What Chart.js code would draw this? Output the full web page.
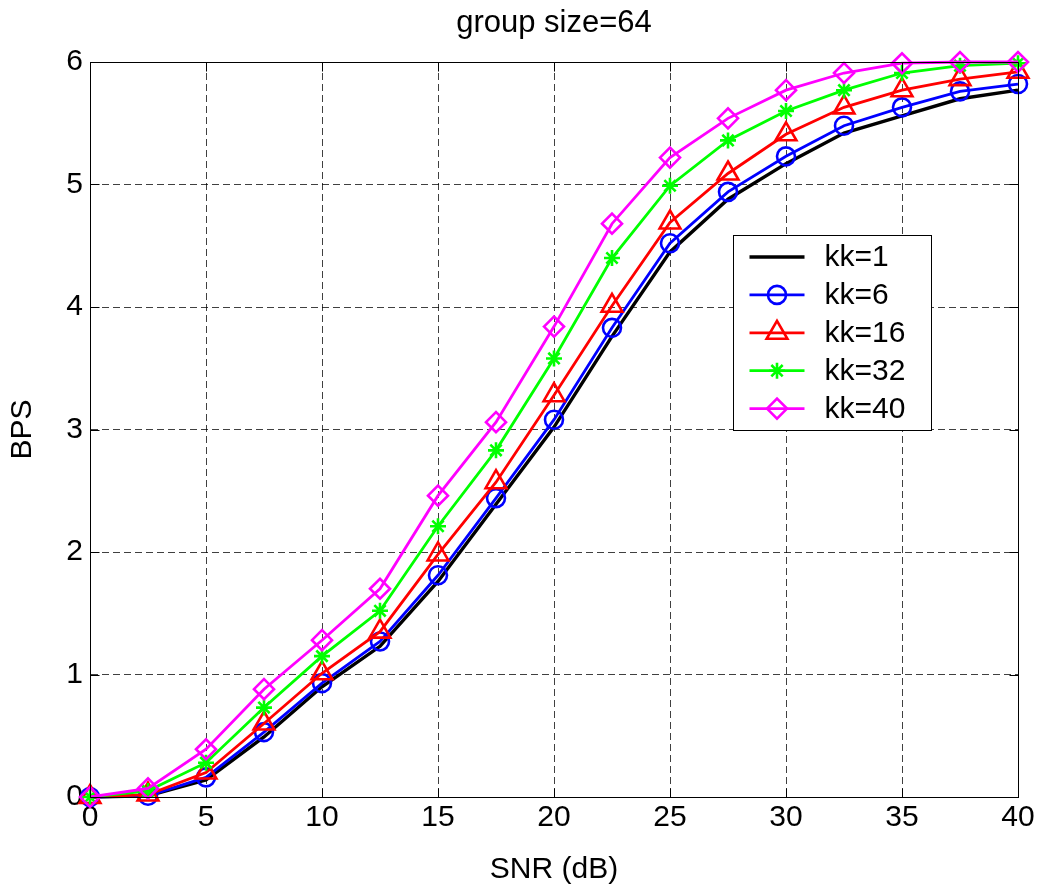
<!DOCTYPE html>
<html>
<head>
<meta charset="utf-8">
<script src="https://cdn.jsdelivr.net/npm/chart.js@4/dist/chart.umd.min.js"></script>
<style>
  html, body { margin: 0; padding: 0; background: #fff; }
  #wrap { width: 1046px; height: 888px; }
</style>
</head>
<body>
<div id="wrap"><canvas id="c" width="1046" height="888"></canvas></div>
<script>
// SNR sweep (dB) and throughput (bits per symbol) for each kk setting
const snr  = [0, 2.5, 5, 7.5, 10, 12.5, 15, 17.5, 20, 22.5, 25, 27.5, 30, 32.5, 35, 37.5, 40];
const kk1  = [0, 0.01, 0.14, 0.49, 0.90, 1.23, 1.76, 2.39, 3.02, 3.76, 4.45, 4.88, 5.17, 5.42, 5.56, 5.70, 5.77];
const kk6  = [0, 0.01, 0.16, 0.53, 0.93, 1.27, 1.81, 2.44, 3.08, 3.83, 4.52, 4.94, 5.23, 5.48, 5.63, 5.76, 5.82];
const kk16 = [0, 0.02, 0.20, 0.60, 1.01, 1.35, 1.98, 2.57, 3.28, 4.01, 4.69, 5.09, 5.41, 5.63, 5.77, 5.86, 5.92];
const kk32 = [0, 0.05, 0.28, 0.73, 1.15, 1.52, 2.21, 2.83, 3.58, 4.40, 4.99, 5.36, 5.60, 5.77, 5.91, 5.97, 5.99];
const kk40 = [0, 0.07, 0.39, 0.88, 1.28, 1.70, 2.46, 3.06, 3.84, 4.68, 5.22, 5.54, 5.77, 5.91, 5.99, 6.00, 6.00];

const seriesLabels = ['kk=1', 'kk=6', 'kk=16', 'kk=32', 'kk=40'];
const xTicks = [0, 5, 10, 15, 20, 25, 30, 35, 40];
const yTicks = [0, 1, 2, 3, 4, 5, 6];
const chartTitle = 'group size=64';

const FONT = "'Liberation Sans', Arial, Helvetica, sans-serif";

function pts(ys) { return snr.map((x, i) => ({ x: x, y: ys[i] })); }

const styles = [
  { color: '#000000', pointStyle: false,      radius: 0,  width: 3.4 },
  { color: '#0000ff', pointStyle: 'circle',   radius: 9,  width: 2.8 },
  { color: '#ff0000', pointStyle: 'triangle', radius: 12, width: 2.8 },
  { color: '#00ff00', pointStyle: 'star',     radius: 8,  width: 2.8 },
  { color: '#ff00ff', pointStyle: 'rectRot',  radius: 10, width: 2.8 }
];
const values = [kk1, kk6, kk16, kk32, kk40];

const datasets = values.map((v, i) => ({
  label: seriesLabels[i],
  data: pts(v),
  borderColor: styles[i].color,
  borderWidth: styles[i].width,
  pointStyle: styles[i].pointStyle,
  pointRadius: styles[i].radius,
  pointHoverRadius: styles[i].radius,
  pointBorderColor: styles[i].color,
  pointBackgroundColor: 'rgba(0,0,0,0)',
  pointBorderWidth: 2.6,
  tension: 0,
  fill: false,
  clip: false,
  order: values.length - i
}));

// Axes box with inward tick marks, plus the title centred over the plot area
const framePlugin = {
  id: 'frame',
  afterDatasetsDraw(chart) {
    const { ctx, chartArea: a, scales } = chart;
    ctx.save();
    ctx.strokeStyle = '#000';
    ctx.lineWidth = 1;
    ctx.setLineDash([]);
    const L = Math.round(a.left) + 0.5, R = Math.round(a.right) + 0.5;
    const T = Math.round(a.top) + 0.5, B = Math.round(a.bottom) + 0.5;
    ctx.beginPath();
    ctx.rect(L, T, R - L, B - T);
    const tl = 9;
    xTicks.forEach(v => {
      const px = Math.round(scales.x.getPixelForValue(v)) + 0.5;
      ctx.moveTo(px, B); ctx.lineTo(px, B - tl);
      ctx.moveTo(px, T); ctx.lineTo(px, T + tl);
    });
    yTicks.forEach(v => {
      const py = Math.round(scales.y.getPixelForValue(v)) + 0.5;
      ctx.moveTo(L, py); ctx.lineTo(L + tl, py);
      ctx.moveTo(R, py); ctx.lineTo(R - tl, py);
    });
    ctx.stroke();

    ctx.fillStyle = '#000';
    ctx.font = '31px ' + FONT;
    ctx.textAlign = 'center';
    ctx.textBaseline = 'middle';
    ctx.fillText(chartTitle, (a.left + a.right) / 2, 23);
    ctx.restore();
  }
};

// Boxed legend inside the plot, upper right
const boxLegendPlugin = {
  id: 'boxLegend',
  afterDraw(chart) {
    const { ctx, chartArea: a } = chart;
    const w = 198, h = 195;
    const x0 = Math.round(a.right - 87 - w) + 0.5;
    const y0 = Math.round(a.top + 173) + 0.5;
    ctx.save();
    ctx.fillStyle = '#fff';
    ctx.fillRect(x0, y0, w, h);
    ctx.strokeStyle = '#000';
    ctx.lineWidth = 1;
    ctx.setLineDash([]);
    ctx.strokeRect(x0, y0, w, h);
    chart.data.datasets.forEach((ds, i) => {
      const y = y0 + 21.5 + i * 37.9;
      const lx0 = x0 + 16, lx1 = x0 + 71, mx = (lx0 + lx1) / 2;
      ctx.strokeStyle = ds.borderColor;
      ctx.lineWidth = ds.borderWidth;
      ctx.beginPath();
      ctx.moveTo(lx0, y); ctx.lineTo(lx1, y);
      ctx.stroke();
      if (ds.pointStyle) {
        ctx.lineWidth = ds.pointBorderWidth;
        ctx.strokeStyle = ds.pointBorderColor;
        ctx.fillStyle = 'rgba(0,0,0,0)';
        Chart.helpers.drawPoint(ctx, {
          pointStyle: ds.pointStyle, radius: ds.pointRadius,
          rotation: 0, borderWidth: ds.pointBorderWidth
        }, mx, y);
      }
      ctx.fillStyle = '#000';
      ctx.font = '30px ' + FONT;
      ctx.textAlign = 'left';
      ctx.textBaseline = 'middle';
      ctx.fillText(ds.label, x0 + 91, y + 1);
    });
    ctx.restore();
  }
};

new Chart(document.getElementById('c'), {
  type: 'line',
  data: { datasets: datasets },
  options: {
    responsive: false,
    animation: false,
    devicePixelRatio: 1,
    layout: { padding: { left: 0, right: 28, top: 62, bottom: 0 } },
    plugins: {
      legend: { display: false },
      tooltip: { enabled: false },
      title: { display: false }
    },
    scales: {
      x: {
        type: 'linear',
        min: 0, max: 40,
        afterBuildTicks(s) { s.ticks = xTicks.map(v => ({ value: v })); },
        afterFit(s) { s.height = 91; },
        ticks: {
          color: '#000', padding: 3, maxRotation: 0, autoSkip: false,
          font: { family: FONT, size: 30, lineHeight: 1.2 }
        },
        grid: { color: 'rgba(0,0,0,0.75)', lineWidth: 1, drawTicks: false },
        border: { display: true, color: '#000', width: 1, dash: [7, 4] },
        title: {
          display: true, text: 'SNR (dB)', color: '#000',
          font: { family: FONT, size: 30, lineHeight: 1.2 },
          padding: { top: 0, bottom: 0 }
        }
      },
      y: {
        type: 'linear',
        min: 0, max: 6,
        afterBuildTicks(s) { s.ticks = yTicks.map(v => ({ value: v })); },
        afterFit(s) { s.width = 90; },
        ticks: {
          color: '#000', padding: 7, autoSkip: false,
          font: { family: FONT, size: 30, lineHeight: 1.2 }
        },
        grid: { color: 'rgba(0,0,0,0.75)', lineWidth: 1, drawTicks: false },
        border: { display: true, color: '#000', width: 1, dash: [7, 4] },
        title: {
          display: true, text: 'BPS', color: '#000',
          font: { family: FONT, size: 30, lineHeight: 1.2 },
          padding: { top: 5, bottom: 0 }
        }
      }
    }
  },
  plugins: [framePlugin, boxLegendPlugin]
});
</script>
</body>
</html>
